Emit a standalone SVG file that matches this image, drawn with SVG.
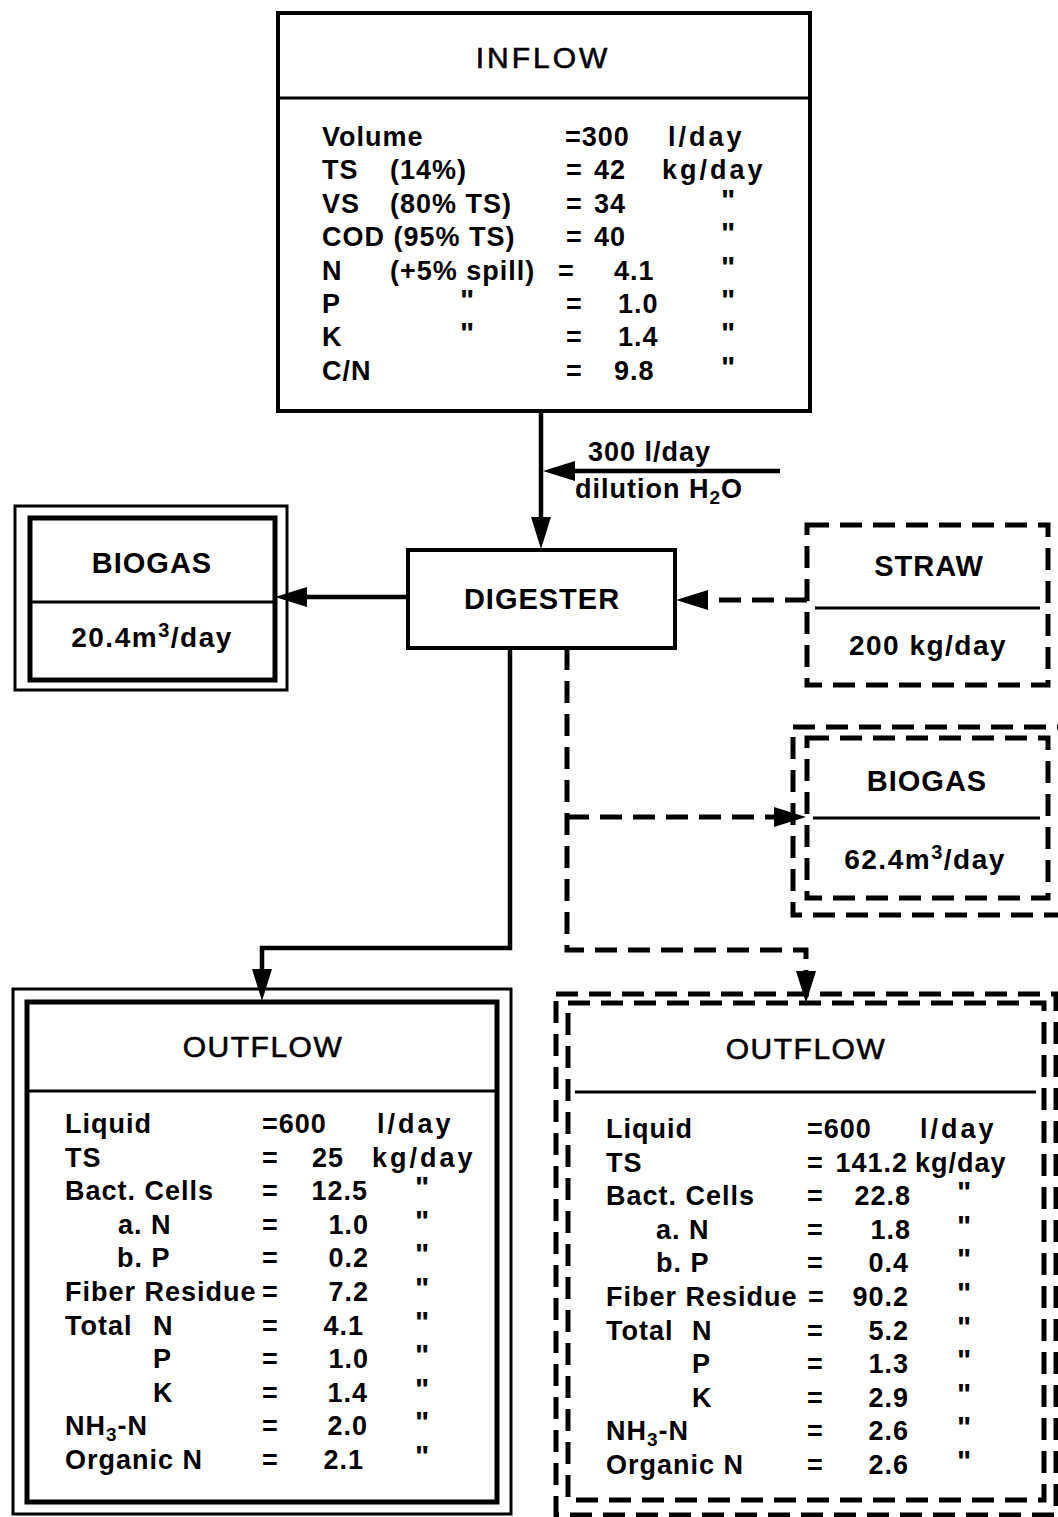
<svg xmlns="http://www.w3.org/2000/svg" width="1058" height="1517" viewBox="0 0 1058 1517">
<defs>
<style>
.t{font-family:"Liberation Sans",Arial,sans-serif;font-size:27px;font-weight:bold;fill:#000;letter-spacing:1px}
.u{letter-spacing:3px}
.d{font-size:30px}
.h{font-family:"Liberation Sans",Arial,sans-serif;font-size:29px;font-weight:bold;fill:#000;text-anchor:middle;letter-spacing:1px}
.hl{font-family:"Liberation Sans",Arial,sans-serif;font-size:30px;font-weight:normal;fill:#000;text-anchor:middle;letter-spacing:3px;stroke:#000;stroke-width:0.6}
.e{text-anchor:end}
.s{font-size:28px;letter-spacing:1.5px;text-anchor:middle}
.box{fill:none;stroke:#000;stroke-width:4}
.thin{fill:none;stroke:#000;stroke-width:3}
.thick{fill:none;stroke:#000;stroke-width:5}
.dash{fill:none;stroke:#000;stroke-width:5;stroke-dasharray:22 11}
.div{stroke:#000;stroke-width:3}
.conn{fill:none;stroke:#000;stroke-width:4.5}
.dconn{fill:none;stroke:#000;stroke-width:5;stroke-dasharray:22 11}
</style>
<marker id="ah" viewBox="0 0 32 20" refX="24" refY="10" markerWidth="32" markerHeight="20" markerUnits="userSpaceOnUse" orient="auto">
<path d="M0,0 L32,10 L0,20 z" fill="#000"/>
</marker>
</defs>
<rect width="1058" height="1517" fill="#fff"/>

<g id="inflow">
<rect class="box" x="278" y="13" width="532" height="398"/>
<line class="div" x1="278" y1="98" x2="810" y2="98"/>
<text class="hl" x="543" y="68">INFLOW</text>
<text class="t" x="322" y="146">Volume</text><text class="t" x="565" y="146">=300</text><text class="t u" x="668" y="146">l/day</text>
<text class="t" x="322" y="179">TS</text><text class="t" x="390" y="179">(14%)</text><text class="t" x="566" y="179">=</text><text class="t" x="594" y="179">42</text><text class="t u" x="662" y="179">kg/day</text>
<text class="t" x="322" y="213">VS</text><text class="t" x="390" y="213">(80% TS)</text><text class="t" x="566" y="213">=</text><text class="t" x="594" y="213">34</text><text class="t d" x="721" y="210">"</text>
<text class="t" x="322" y="246">COD (95% TS)</text><text class="t" x="566" y="246">=</text><text class="t" x="594" y="246">40</text><text class="t d" x="721" y="243">"</text>
<text class="t" x="322" y="280">N</text><text class="t" x="390" y="280">(+5% spill)</text><text class="t" x="558" y="280">=</text><text class="t" x="614" y="280">4.1</text><text class="t d" x="721" y="277">"</text>
<text class="t" x="322" y="313">P</text><text class="t d" x="460" y="310">"</text><text class="t" x="566" y="313">=</text><text class="t" x="618" y="313">1.0</text><text class="t d" x="721" y="310">"</text>
<text class="t" x="322" y="346">K</text><text class="t d" x="460" y="343">"</text><text class="t" x="566" y="346">=</text><text class="t" x="618" y="346">1.4</text><text class="t d" x="721" y="343">"</text>
<text class="t" x="322" y="380">C/N</text><text class="t" x="566" y="380">=</text><text class="t" x="614" y="380">9.8</text><text class="t d" x="721" y="377">"</text>
</g>

<g id="dilution">
<text class="t" x="588" y="461" letter-spacing="2">300 l/day</text>
<text class="t" x="575" y="498" letter-spacing="1.8">dilution H<tspan font-size="19" dy="6">2</tspan><tspan dy="-6">O</tspan></text>
</g>

<g id="digester">
<rect class="box" x="408" y="550" width="267" height="98"/>
<text class="h" x="542" y="609">DIGESTER</text>
</g>

<g id="biogas-left">
<rect class="thin" x="15" y="506" width="272" height="184"/>
<rect class="thick" x="30" y="518" width="245" height="162"/>
<line class="div" x1="30" y1="602" x2="275" y2="602"/>
<text class="h" x="152" y="573">BIOGAS</text>
<text class="t s" x="152" y="647">20.4m<tspan font-size="20" dy="-10">3</tspan><tspan dy="10">/day</tspan></text>
</g>

<g id="straw">
<rect class="dash" x="807" y="525" width="241" height="160"/>
<line class="div" x1="815" y1="608" x2="1040" y2="608"/>
<text class="h" x="929" y="576">STRAW</text>
<text class="t s" x="928" y="655">200 kg/day</text>
</g>

<g id="biogas-right">
<rect class="dash" x="793" y="727" width="290" height="188"/>
<rect class="dash" x="807" y="738" width="241" height="160"/>
<line class="div" x1="813" y1="818" x2="1040" y2="818"/>
<text class="h" x="927" y="791">BIOGAS</text>
<text class="t s" x="925" y="869">62.4m<tspan font-size="20" dy="-10">3</tspan><tspan dy="10">/day</tspan></text>
</g>

<g id="outflow-left">
<rect class="thin" x="13" y="989" width="498" height="525"/>
<rect class="thick" x="27" y="1002" width="470" height="500"/>
<line class="div" x1="27" y1="1091" x2="497" y2="1091"/>
<text class="hl" x="263" y="1057" style="letter-spacing:1.5px">OUTFLOW</text>
<text class="t" x="65" y="1133">Liquid</text><text class="t" x="262" y="1133">=600</text><text class="t u" x="377" y="1133">l/day</text>
<text class="t" x="65" y="1167">TS</text><text class="t" x="262" y="1167">=</text><text class="t e" x="344" y="1167">25</text><text class="t u" x="372" y="1167">kg/day</text>
<text class="t" x="65" y="1200">Bact. Cells</text><text class="t" x="262" y="1200">=</text><text class="t e" x="368" y="1200">12.5</text><text class="t d" x="415" y="1197">"</text>
<text class="t" x="118" y="1234">a. N</text><text class="t" x="262" y="1234">=</text><text class="t e" x="369" y="1234">1.0</text><text class="t d" x="415" y="1231">"</text>
<text class="t" x="117" y="1267">b. P</text><text class="t" x="262" y="1267">=</text><text class="t e" x="369" y="1267">0.2</text><text class="t d" x="415" y="1264">"</text>
<text class="t" x="65" y="1301">Fiber Residue</text><text class="t" x="262" y="1301">=</text><text class="t e" x="369" y="1301">7.2</text><text class="t d" x="415" y="1298">"</text>
<text class="t" x="65" y="1335">Total</text><text class="t" x="153" y="1335">N</text><text class="t" x="262" y="1335">=</text><text class="t e" x="364" y="1335">4.1</text><text class="t d" x="415" y="1332">"</text>
<text class="t" x="153" y="1368">P</text><text class="t" x="262" y="1368">=</text><text class="t e" x="369" y="1368">1.0</text><text class="t d" x="415" y="1365">"</text>
<text class="t" x="153" y="1402">K</text><text class="t" x="262" y="1402">=</text><text class="t e" x="368" y="1402">1.4</text><text class="t d" x="415" y="1399">"</text>
<text class="t" x="65" y="1435" letter-spacing="4">NH<tspan font-size="19" dy="6">3</tspan><tspan dy="-6">-N</tspan></text><text class="t" x="262" y="1435">=</text><text class="t e" x="368" y="1435">2.0</text><text class="t d" x="415" y="1432">"</text>
<text class="t" x="65" y="1469">Organic N</text><text class="t" x="262" y="1469">=</text><text class="t e" x="364" y="1469">2.1</text><text class="t d" x="415" y="1466">"</text>
</g>

<g id="outflow-right">
<rect class="dash" x="556" y="994" width="500" height="521"/>
<rect class="dash" x="568" y="1003" width="476" height="497"/>
<line class="div" x1="575" y1="1092" x2="1036" y2="1092"/>
<text class="hl" x="806" y="1059" style="letter-spacing:1.5px">OUTFLOW</text>
<text class="t" x="606" y="1138">Liquid</text><text class="t" x="807" y="1138">=600</text><text class="t u" x="920" y="1138">l/day</text>
<text class="t" x="606" y="1172">TS</text><text class="t" x="807" y="1172">=</text><text class="t e" x="908" y="1172">141.2</text><text class="t" x="915" y="1172" letter-spacing="1.5">kg/day</text>
<text class="t" x="606" y="1205">Bact. Cells</text><text class="t" x="807" y="1205">=</text><text class="t e" x="911" y="1205">22.8</text><text class="t d" x="957" y="1202">"</text>
<text class="t" x="656" y="1239">a. N</text><text class="t" x="807" y="1239">=</text><text class="t e" x="911" y="1239">1.8</text><text class="t d" x="957" y="1236">"</text>
<text class="t" x="656" y="1272">b. P</text><text class="t" x="807" y="1272">=</text><text class="t e" x="909" y="1272">0.4</text><text class="t d" x="957" y="1269">"</text>
<text class="t" x="606" y="1306">Fiber Residue</text><text class="t" x="808" y="1306">=</text><text class="t e" x="909" y="1306">90.2</text><text class="t d" x="957" y="1303">"</text>
<text class="t" x="606" y="1340">Total</text><text class="t" x="692" y="1340">N</text><text class="t" x="807" y="1340">=</text><text class="t e" x="909" y="1340">5.2</text><text class="t d" x="957" y="1337">"</text>
<text class="t" x="692" y="1373">P</text><text class="t" x="807" y="1373">=</text><text class="t e" x="909" y="1373">1.3</text><text class="t d" x="957" y="1370">"</text>
<text class="t" x="692" y="1407">K</text><text class="t" x="807" y="1407">=</text><text class="t e" x="909" y="1407">2.9</text><text class="t d" x="957" y="1404">"</text>
<text class="t" x="606" y="1440" letter-spacing="4">NH<tspan font-size="19" dy="6">3</tspan><tspan dy="-6">-N</tspan></text><text class="t" x="807" y="1440">=</text><text class="t e" x="909" y="1440">2.6</text><text class="t d" x="957" y="1437">"</text>
<text class="t" x="606" y="1474">Organic N</text><text class="t" x="807" y="1474">=</text><text class="t e" x="909" y="1474">2.6</text><text class="t d" x="957" y="1471">"</text>
</g>

<g id="connectors">
<path class="conn" d="M541,412 V541" marker-end="url(#ah)"/>
<path class="conn" d="M780,471 H551" marker-end="url(#ah)"/>
<path class="conn" d="M408,597 H283" marker-end="url(#ah)"/>
<path class="dconn" d="M807,600 H684" marker-end="url(#ah)"/>
<path class="conn" d="M510,648 V948 H262 V993" marker-end="url(#ah)"/>
<path class="dconn" d="M567,648 V950 H806 V995" marker-end="url(#ah)"/>
<path class="dconn" d="M567,817 H798" marker-end="url(#ah)"/>
</g>
</svg>
